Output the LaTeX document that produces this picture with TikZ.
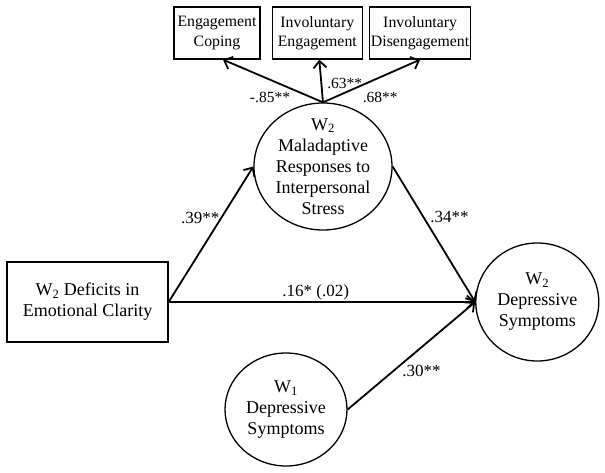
\documentclass[tikz,border=0pt]{standalone}
\usepackage{fontspec}
\setmainfont{Liberation Serif}
\usepackage[dvipsnames]{xcolor}
\usepackage{tikz}
\usetikzlibrary{positioning}
\usetikzlibrary{shapes.geometric}
\usetikzlibrary{arrows.meta}

\tikzset{
	varbox/.style={draw, fill=White, line width=1.3pt, align=center, inner sep=1pt, font=\fontsize{18}{21}\selectfont},
	itembox/.style={draw, fill=White, line width=1.3pt, align=center, inner sep=0.5pt, minimum height=52pt, font=\fontsize{15.8}{19.5}\selectfont},
	latent/.style={draw, ellipse, fill=White, line width=1.3pt, inner sep=0pt},
	inlabel/.style={align=center, font=\fontsize{18}{21}\selectfont},
	pathline/.style={line width=1.8pt, -{Straight Barb[length=7pt,width=13pt]}},
	coef/.style={inner sep=1pt, font=\fontsize{17}{20}\selectfont},
	coefsmall/.style={inner sep=1pt, font=\fontsize{15.5}{19}\selectfont}
}

\begin{document}
\begin{tikzpicture}
	\useasboundingbox (0pt,0pt) rectangle (605pt,-473pt);
	
	\node[
	varbox,
	minimum width=161pt,
	minimum height=80pt
	] (Clarity) at (87.5pt,-302pt) {W\textsubscript{2} Deficits in\\Emotional Clarity};
	
	% ---
	
	\node[
	latent,
	minimum width=138pt,
	minimum height=127pt,
	label={[inlabel]center:{W\textsubscript{2}\\Maladaptive\\Responses to\\Interpersonal\\Stress}}
	] (Mal) at (323pt,-166.5pt) {};
	
	\node[
	latent,
	minimum width=123pt,
	minimum height=118pt,
	right=306.5pt of Clarity,
	label={[inlabel]center:{W\textsubscript{2}\\Depressive\\Symptoms}}
	] (DepW2) {};
	
	\node[
	latent,
	minimum width=122pt,
	minimum height=113pt,
	label={[inlabel]center:{W\textsubscript{1}\\Depressive\\Symptoms}}
	] (DepW1) at (286pt,-409.5pt) {};
	
	% ---
	
	\node[
	itembox,
	minimum width=86pt
	] (EngCoping) at (217pt,-33pt) {Engagement\\Coping};
	
	\node[
	itembox,
	minimum width=90pt,
	right=11pt of EngCoping
	] (InvEng) {Involuntary\\Engagement};
	
	\node[
	itembox,
	minimum width=101pt,
	right=6pt of InvEng
	] (InvDis) {Involuntary\\Disengagement};
	
	% ---
	
	\draw[pathline] (Mal.north) -- ([xshift=6pt]EngCoping.south)
	node[coefsmall, pos=0.53, below=11pt]{-.85**};
	
	\draw[pathline] (Mal.north) -- ([xshift=2pt]InvEng.south)
	node[coefsmall, pos=0.44, right=4pt]{.63**};
	
	\draw[pathline] (Mal.north) -- (InvDis.south)
	node[coefsmall, pos=0.59, below=13pt]{.68**};
	
	\draw[pathline] (Clarity.east) -- (Mal.west)
	node[coef, pos=0.62, left]{.39**};
	
	\draw[pathline] (Clarity.east) -- (DepW2.west)
	node[coef, pos=0.48, above]{.16* (.02)};
	
	\draw[pathline] (Mal.east) -- (DepW2.west)
	node[coef, pos=0.375, right=5pt]{.34**};
	
	\draw[pathline] (DepW1.east) -- (DepW2.west)
	node[coef, pos=0.58, below=16pt]{.30**};
\end{tikzpicture}
\end{document}
